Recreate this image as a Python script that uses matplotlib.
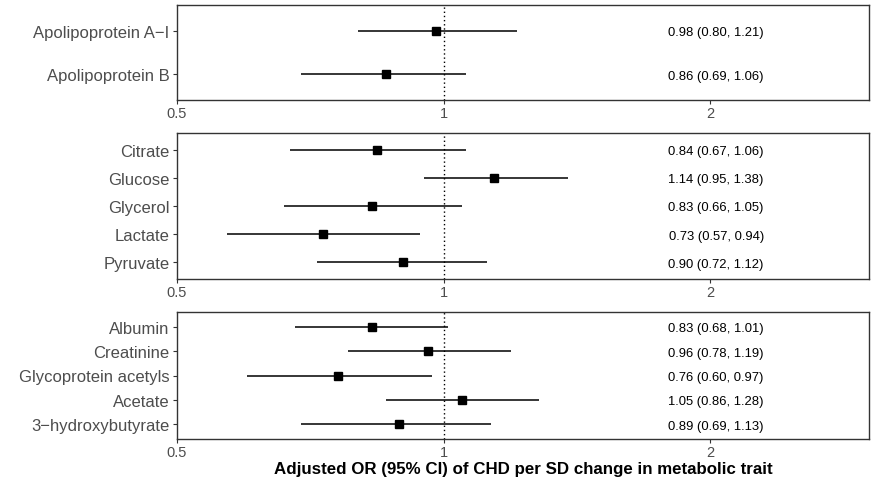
import matplotlib
matplotlib.use("Agg")
import matplotlib.pyplot as plt
import matplotlib.ticker as mticker
import numpy as np

plt.rcParams['font.family'] = ['Liberation Sans', 'DejaVu Sans']

# panel 1: apolipoproteins
names1 = ['Apolipoprotein A\u2212I', 'Apolipoprotein B']
or1 = [0.98, 0.86]
lo1 = [0.80, 0.69]
hi1 = [1.21, 1.06]

# panel 2: glycolysis
names2 = ['Citrate', 'Glucose', 'Glycerol', 'Lactate', 'Pyruvate']
or2 = [0.84, 1.14, 0.83, 0.73, 0.90]
lo2 = [0.67, 0.95, 0.66, 0.57, 0.72]
hi2 = [1.06, 1.38, 1.05, 0.94, 1.12]

# panel 3: other
names3 = ['Albumin', 'Creatinine', 'Glycoprotein acetyls', 'Acetate', '3\u2212hydroxybutyrate']
or3 = [0.83, 0.96, 0.76, 1.05, 0.89]
lo3 = [0.68, 0.78, 0.60, 0.86, 0.69]
hi3 = [1.01, 1.19, 0.97, 1.28, 1.13]

xticks = [0.5, 1, 2]
xtick_labels = ['0.5', '1', '2']

fig = plt.figure(figsize=(8.78, 4.81), dpi=100)
left, width = 177 / 878, (869 - 177) / 878
H = 481
boxes = [(6, 101), (134, 280), (313, 440)]
panels = [(names1, or1, lo1, hi1), (names2, or2, lo2, hi2), (names3, or3, lo3, hi3)]

grey = '#333333'
for (top, bot), (names, est, lo, hi) in zip(boxes, panels):
    ax = fig.add_axes([left, 1 - bot / H, width, (bot - top) / H])
    n = len(names)
    y = np.arange(n)[::-1]
    ax.axvline(1, color='black', ls=(0, (1, 2)), lw=1, zorder=1)
    ax.hlines(y, lo, hi, color='black', lw=1.1, zorder=2)
    ax.plot(est, y, 's', color='black', ms=5.4, zorder=3)
    for yi, e, l, h in zip(y, est, lo, hi):
        ax.text(2.03, yi, f'{e:.2f} ({l:.2f}, {h:.2f})', ha='center', va='center_baseline',
                fontsize=9.4, color='black')
    ax.set_xscale('log')
    ax.set_xlim(0.5, 3.02)
    ax.set_ylim(-0.6, n - 0.4)
    ax.set_yticks(y)
    ax.set_yticklabels(names, fontsize=12, color='#4d4d4d')
    ax.xaxis.set_major_locator(mticker.FixedLocator(xticks))
    ax.xaxis.set_major_formatter(mticker.FixedFormatter(xtick_labels))
    ax.xaxis.set_minor_locator(mticker.NullLocator())
    ax.tick_params(axis='x', labelsize=10.5, labelcolor='#4d4d4d', length=3, pad=1, color=grey)
    ax.tick_params(axis='y', length=3, pad=2.5, color=grey)
    for s in ax.spines.values():
        s.set_color(grey)
        s.set_linewidth(1)

ax.set_xlabel('Adjusted OR (95% CI) of CHD per SD change in metabolic trait',
              fontsize=12.2, fontweight='bold', labelpad=2)

fig.savefig('out.png', dpi=100)
